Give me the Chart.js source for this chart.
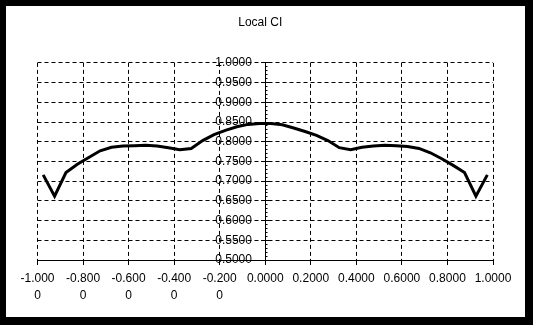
<!DOCTYPE html>
<html>
<head>
<meta charset="utf-8">
<script src="https://cdn.jsdelivr.net/npm/chart.js@4/dist/chart.umd.min.js"></script>
<style>
  html, body { margin: 0; padding: 0; background: #000; }
  #frame { position: relative; width: 533px; height: 325px; background: #000; }
  #chart { position: absolute; left: 6px; top: 6px; background: #fff; }
</style>
</head>
<body>
<div id="frame">
  <canvas id="chart" width="519" height="311"></canvas>
</div>
<script>
// Local CI curve
const xValues = [-0.975, -0.925, -0.875, -0.825, -0.775, -0.725, -0.675, -0.625, -0.575, -0.525,
                 -0.475, -0.425, -0.375, -0.325, -0.275, -0.225, -0.175, -0.125, -0.075, -0.025,
                  0.025,  0.075,  0.125,  0.175,  0.225,  0.275,  0.325,  0.375,  0.425,  0.475,
                  0.525,  0.575,  0.625,  0.675,  0.725,  0.775,  0.825,  0.875,  0.925,  0.975];
const ciValues = [0.716, 0.662, 0.722, 0.743, 0.760, 0.777, 0.786, 0.789, 0.790, 0.791,
                  0.789, 0.785, 0.780, 0.783, 0.803, 0.818, 0.829, 0.838, 0.844, 0.846,
                  0.846, 0.843, 0.835, 0.826, 0.816, 0.803, 0.785, 0.780, 0.786, 0.789,
                  0.791, 0.790, 0.788, 0.783, 0.772, 0.757, 0.740, 0.722, 0.662, 0.716];

const xLabels = [['-1.000', '0'], ['-0.800', '0'], ['-0.600', '0'], ['-0.400', '0'], ['-0.200', '0'],
                 '0.0000', '0.2000', '0.4000', '0.6000', '0.8000', '1.0000'];
const yLabels = ['0.5000', '0.5500', '0.6000', '0.6500', '0.7000', '0.7500',
                 '0.8000', '0.8500', '0.9000', '0.9500', '1.0000'];

const font = { family: "'Liberation Sans', Arial, sans-serif", size: 12 };
Chart.defaults.color = '#000';

new Chart(document.getElementById('chart'), {
  type: 'scatter',
  data: {
    datasets: [{
      label: 'Local CI',
      data: xValues.map((x, i) => ({ x: x, y: ciValues[i] })),
      showLine: true,
      borderColor: '#000',
      borderWidth: 3,
      pointRadius: 0,
      tension: 0
    }]
  },
  options: {
    responsive: false,
    animation: false,
    events: [],
    layout: { padding: { left: 31.5, right: 32, top: 0, bottom: 0 } },
    plugins: {
      legend: { display: false },
      tooltip: { enabled: false },
      title: {
        display: true,
        text: 'Local CI   ',
        font: { family: font.family, size: 12, weight: 'normal' },
        padding: { top: 9.5, bottom: 33 }
      }
    },
    scales: {
      x: {
        type: 'linear',
        position: 'bottom',
        min: -1, max: 1,
        afterFit: s => { s.height = 57; },
        ticks: {
          stepSize: 0.2,
          autoSkip: false,
          maxRotation: 0,
          padding: 5,
          font: { family: font.family, size: 12, lineHeight: 1.42 },
          callback: (v, i) => xLabels[i]
        },
        grid: { color: '#000', lineWidth: 1, tickLength: 5, tickColor: '#000' },
        border: { color: '#000', width: 1, dash: [4, 3] }
      },
      y: {
        type: 'linear',
        position: { x: 0 },
        min: 0.5, max: 1,
        ticks: {
          stepSize: 0.05,
          autoSkip: false,
          font: font,
          callback: (v, i) => yLabels[i] + '    '
        },
        grid: { color: '#000', lineWidth: 1, tickLength: 4, tickColor: '#000' },
        border: { color: '#000', width: 1, dash: [4, 3] }
      },
      yMajorRight: {
        type: 'linear',
        axis: 'y',
        position: { x: 0 },
        min: 0.5, max: 1,
        ticks: { stepSize: 0.05, display: false },
        grid: { drawOnChartArea: false, tickLength: -4, tickColor: '#000' },
        border: { color: '#000' }
      },
      yMinor: {
        type: 'linear',
        axis: 'y',
        position: { x: 0 },
        min: 0.5, max: 1,
        ticks: { stepSize: 0.01, maxTicksLimit: 100, display: false },
        grid: { drawOnChartArea: false, tickLength: -2.5, tickColor: '#000' },
        border: { color: '#000' }
      }
    }
  }
});
</script>
</body>
</html>
